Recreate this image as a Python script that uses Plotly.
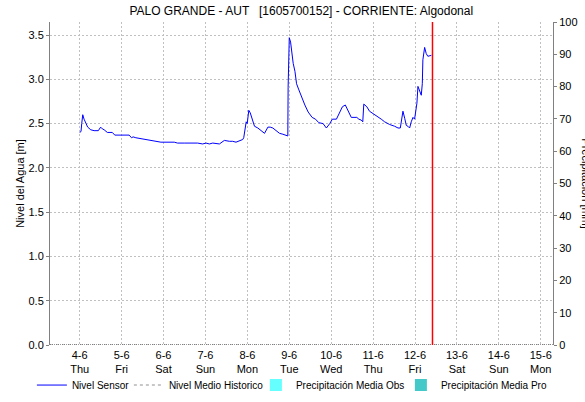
import plotly.graph_objects as go

# ---------------- data ----------------
sensor_time = [
    "2020-06-04 00:00", "2020-06-04 00:45", "2020-06-04 01:10", "2020-06-04 01:45", "2020-06-04 02:30",
    "2020-06-04 03:30", "2020-06-04 04:35", "2020-06-04 06:20", "2020-06-04 08:15", "2020-06-04 10:40",
    "2020-06-04 12:00", "2020-06-04 13:00", "2020-06-04 14:00", "2020-06-04 15:50", "2020-06-04 18:40",
    "2020-06-04 20:05", "2020-06-05 04:20", "2020-06-05 05:40", "2020-06-05 06:35", "2020-06-05 08:10",
    "2020-06-05 11:00", "2020-06-05 14:50", "2020-06-05 19:40", "2020-06-05 22:30", "2020-06-06 06:10",
    "2020-06-06 08:00", "2020-06-06 11:50", "2020-06-06 15:40", "2020-06-06 19:30", "2020-06-06 22:25",
    "2020-06-07 00:20", "2020-06-07 02:15", "2020-06-07 04:10", "2020-06-07 08:00", "2020-06-07 08:55",
    "2020-06-07 10:50", "2020-06-07 13:45", "2020-06-07 15:35", "2020-06-07 17:30", "2020-06-07 18:30",
    "2020-06-07 21:20", "2020-06-07 21:55", "2020-06-07 22:45", "2020-06-07 23:20", "2020-06-07 23:55",
    "2020-06-08 00:50", "2020-06-08 01:40", "2020-06-08 02:45", "2020-06-08 04:05", "2020-06-08 06:00",
    "2020-06-08 07:55", "2020-06-08 09:50", "2020-06-08 11:45", "2020-06-08 13:05", "2020-06-08 14:35",
    "2020-06-08 16:30", "2020-06-08 18:25", "2020-06-08 20:20", "2020-06-08 22:35", "2020-06-08 23:10",
    "2020-06-08 23:20", "2020-06-09 00:00", "2020-06-09 00:45", "2020-06-09 01:20", "2020-06-09 02:15",
    "2020-06-09 03:15", "2020-06-09 04:10", "2020-06-09 05:30", "2020-06-09 07:00", "2020-06-09 08:55",
    "2020-06-09 10:50", "2020-06-09 13:05", "2020-06-09 15:00", "2020-06-09 16:55", "2020-06-09 19:20",
    "2020-06-09 21:15", "2020-06-09 23:10", "2020-06-10 00:40", "2020-06-10 03:00", "2020-06-10 04:50",
    "2020-06-10 06:25", "2020-06-10 08:05", "2020-06-10 09:35", "2020-06-10 11:30", "2020-06-10 14:40",
    "2020-06-10 15:50", "2020-06-10 17:10", "2020-06-10 18:05", "2020-06-10 18:40", "2020-06-10 20:25",
    "2020-06-10 21:55", "2020-06-10 23:30", "2020-06-11 00:50", "2020-06-11 02:45", "2020-06-11 04:40",
    "2020-06-11 06:35", "2020-06-11 09:25", "2020-06-11 12:20", "2020-06-11 14:15", "2020-06-11 15:35",
    "2020-06-11 16:10", "2020-06-11 17:05", "2020-06-11 18:05", "2020-06-11 19:00", "2020-06-11 19:55",
    "2020-06-11 20:55", "2020-06-11 21:50", "2020-06-11 22:50", "2020-06-11 23:45", "2020-06-12 01:05",
    "2020-06-12 01:40", "2020-06-12 02:35", "2020-06-12 03:35", "2020-06-12 04:10", "2020-06-12 04:30",
    "2020-06-12 05:30", "2020-06-12 06:25", "2020-06-12 07:20", "2020-06-12 08:40", "2020-06-12 09:20",
]
sensor_level = [
    2.40, 2.41, 2.50, 2.60, 2.55,
    2.50, 2.46, 2.43, 2.42, 2.42,
    2.46, 2.44, 2.43, 2.40, 2.40,
    2.37, 2.37, 2.34, 2.35, 2.34,
    2.33, 2.31, 2.30, 2.29, 2.29,
    2.28, 2.28, 2.28, 2.28, 2.27,
    2.28, 2.27, 2.28, 2.27, 2.28,
    2.31, 2.30, 2.30, 2.29, 2.30,
    2.32, 2.34, 2.48, 2.52, 2.50,
    2.65, 2.62, 2.54, 2.47, 2.45,
    2.42, 2.39, 2.46, 2.46, 2.45,
    2.42, 2.39, 2.38, 2.37, 2.36,
    2.91, 3.47, 3.42, 3.31, 3.18,
    3.09, 2.95, 2.88, 2.80, 2.71,
    2.63, 2.57, 2.55, 2.51, 2.50,
    2.45, 2.50, 2.55, 2.55, 2.63,
    2.69, 2.71, 2.65, 2.57, 2.57,
    2.55, 2.54, 2.52, 2.72, 2.69,
    2.64, 2.62, 2.60, 2.58, 2.55,
    2.52, 2.49, 2.47, 2.45, 2.45,
    2.52, 2.64, 2.56, 2.48, 2.47,
    2.45, 2.52, 2.57, 2.55, 2.73,
    2.92, 2.88, 2.82, 2.95, 3.22,
    3.36, 3.29, 3.26, 3.27, 3.27,
]

hist_time = ["2020-06-03 07:00", "2020-06-15 07:00"]
hist_level = [0.0, 0.0]

precip_obs_time = ["2020-06-04", "2020-06-05", "2020-06-06", "2020-06-07", "2020-06-08",
                   "2020-06-09", "2020-06-10", "2020-06-11", "2020-06-12"]
precip_obs = [0, 0, 0, 0, 0, 0, 0, 0, 0]
precip_pro_time = ["2020-06-13", "2020-06-14", "2020-06-15"]
precip_pro = [0, 0, 0]

tick_days = ["2020-06-04", "2020-06-05", "2020-06-06", "2020-06-07", "2020-06-08", "2020-06-09",
             "2020-06-10", "2020-06-11", "2020-06-12", "2020-06-13", "2020-06-14", "2020-06-15"]
tick_labels = ["4-6<br>Thu", "5-6<br>Fri", "6-6<br>Sat", "7-6<br>Sun", "8-6<br>Mon", "9-6<br>Tue",
               "10-6<br>Wed", "11-6<br>Thu", "12-6<br>Fri", "13-6<br>Sat", "14-6<br>Sun", "15-6<br>Mon"]

x_range = ["2020-06-03 07:00", "2020-06-15 07:00"]
now_time = "2020-06-12 10:00"

title_text = "PALO GRANDE - AUT   [1605700152] - CORRIENTE: Algodonal"

FONT = "Liberation Sans, Arial, sans-serif"

fig = go.Figure()

fig.add_trace(go.Scatter(
    x=sensor_time, y=sensor_level, mode="lines", name="Nivel Sensor",
    line=dict(color="#0000ff", width=1), legendrank=1, legendwidth=52))

fig.add_trace(go.Scatter(
    x=hist_time, y=hist_level, mode="lines", name="Nivel Medio Historico",
    line=dict(color="#c8c8c8", width=2, dash="dot"), cliponaxis=False,
    legendrank=2, legendwidth=82))

fig.add_trace(go.Bar(
    x=precip_obs_time, y=precip_obs, name="Precipitación Media Obs",
    marker=dict(color="#66ffff", line=dict(width=0)), yaxis="y2",
    legendrank=3, legendwidth=100))
fig.add_trace(go.Bar(
    x=precip_pro_time, y=precip_pro, name="Precipitación Media Pro",
    marker=dict(color="#44c8c8", line=dict(width=0)), yaxis="y2",
    legendrank=4, legendwidth=112))

# bottom dotted baseline and "now" marker line
fig.add_shape(type="line", xref="paper", yref="y", x0=0, x1=1, y0=0, y1=0,
              line=dict(color="#333333", width=1, dash="1px,1px"), layer="above")
fig.add_shape(type="line", xref="x", yref="paper", x0=now_time, x1=now_time, y0=0, y1=1,
              line=dict(color="#ff0000", width=1.5), layer="above")

fig.update_layout(
    width=585, height=402,
    margin=dict(l=50, r=32, t=22, b=57, autoexpand=False),
    paper_bgcolor="white", plot_bgcolor="white",
    font=dict(family=FONT, size=11, color="#000000"),
    title=dict(text=title_text, x=0.515, xanchor="center", y=0.984, yanchor="top",
               font=dict(family=FONT, size=12, color="#000")),
    showlegend=True,
    legend=dict(orientation="h", x=-0.036, xanchor="left", y=-0.124, yanchor="middle",
                font=dict(family=FONT, size=10), itemwidth=30, tracegroupgap=0,
                bgcolor="rgba(0,0,0,0)"),
    xaxis=dict(
        type="date", range=x_range,
        tickvals=tick_days, ticktext=tick_labels,
        showgrid=True, gridcolor="#c0c0c0", griddash="2px,2px", gridwidth=1,
        showline=False, zeroline=False, ticks="",
        tickfont=dict(family=FONT, size=11), ticklabelstandoff=2,
    ),
    yaxis=dict(
        range=[0, 3.647], tickvals=[0, 0.5, 1.0, 1.5, 2.0, 2.5, 3.0, 3.5],
        ticktext=["0.0", "0.5", "1.0", "1.5", "2.0", "2.5", "3.0", "3.5"],
        showgrid=True, gridcolor="#c0c0c0", griddash="2px,2px", gridwidth=1,
        showline=True, linecolor="#808080", linewidth=1, zeroline=False,
        ticks="outside", ticklen=3, tickcolor="#808080",
        title=dict(text="Nivel del Agua [m]", font=dict(family=FONT, size=11), standoff=1),
        tickfont=dict(family=FONT, size=11),
    ),
    yaxis2=dict(
        overlaying="y", side="right", range=[0, 100],
        tickvals=[0, 10, 20, 30, 40, 50, 60, 70, 80, 90, 100],
        showgrid=False, zeroline=False,
        showline=True, linecolor="#808080", linewidth=1,
        ticks="outside", ticklen=3, tickcolor="#808080",
        tickfont=dict(family=FONT, size=11),
    ),
    bargap=0,
)

fig.add_annotation(text="Precipitación [mm]", textangle=90, xref="paper", yref="paper",
                   x=1.05, y=0.5, xanchor="left", yanchor="middle", showarrow=False,
                   font=dict(family=FONT, size=11, color="#000"))

fig.write_html("out.html", config={"displayModeBar": False},
               post_script="document.body.style.margin='0';")
